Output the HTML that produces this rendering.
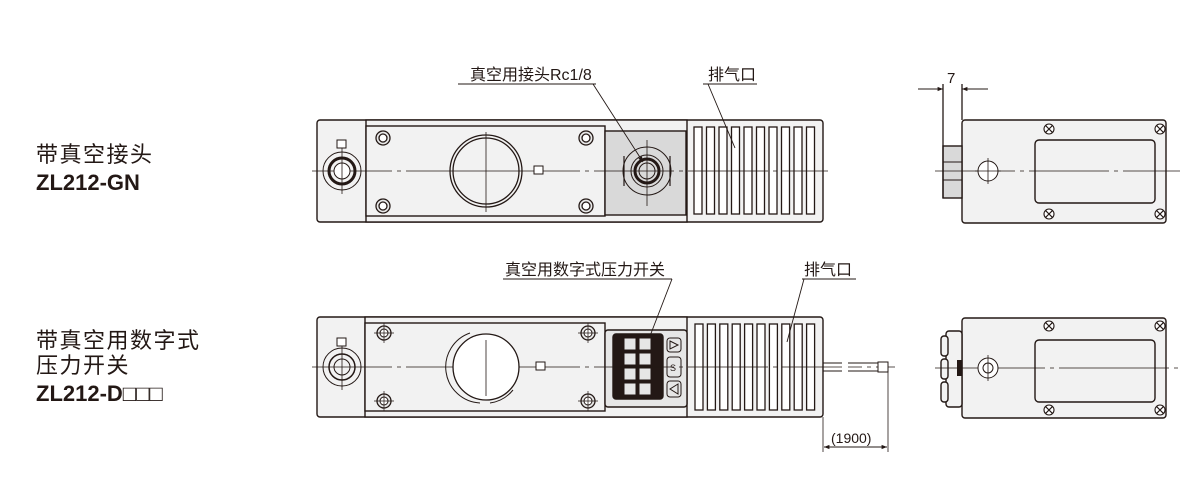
<!DOCTYPE html>
<html><head><meta charset="utf-8"><style>
html,body{margin:0;padding:0;background:#fff;}
svg{display:block;}
text{font-family:"Liberation Sans","Noto Sans CJK SC",sans-serif;fill:#231815;}
</style></head><body>
<svg width="1200" height="500" viewBox="0 0 1200 500" xmlns="http://www.w3.org/2000/svg">
<defs>
<marker id="ar" viewBox="0 0 10 10" refX="10" refY="5" markerWidth="9" markerHeight="6" orient="auto-start-reverse"><path d="M0,1 L10,5 L0,9 z" fill="#231815"/></marker>
<g id="bolt"><circle r="7" fill="#e8e8e8" stroke="#231815" stroke-width="1.3"/><circle r="4" fill="#fff" stroke="#231815" stroke-width="1.3"/></g>
<g id="bolt2"><circle r="7" fill="#e8e8e8" stroke="#231815" stroke-width="1.3"/><circle r="4" fill="#fff" stroke="#231815" stroke-width="1"/><path d="M-10,0 H10 M0,-10 V10" stroke="#231815" stroke-width="0.7"/></g>
<g id="x"><circle r="5" fill="#fff" stroke="#231815" stroke-width="1.1"/><path d="M-3.3,-3.3 L3.3,3.3 M3.3,-3.3 L-3.3,3.3" stroke="#231815" stroke-width="1.1"/></g>
</defs>
<text x="36" y="162" font-size="22" letter-spacing="1.5">带真空接头</text>
<text x="36" y="190" font-size="22" font-weight="bold">ZL212-GN</text>
<text x="36" y="348" font-size="22" letter-spacing="1.5">带真空用数字式</text>
<text x="36" y="373" font-size="22" letter-spacing="1.5">压力开关</text>
<text x="36" y="401" font-size="22" font-weight="bold">ZL212-D□□□</text>

<!-- ===== TOP FRONT VIEW ===== -->
<g stroke="#231815" stroke-width="1.4" fill="#f2f2f2">
<rect x="317" y="120" width="506" height="102" rx="3"/>
<rect x="366" y="120" width="321" height="102" fill="#f2f2f2"/>
<rect x="366" y="126" width="239" height="90" fill="#f2f2f2"/>
<rect x="605" y="131" width="81" height="84" fill="#d9d9d9"/>
</g>
<g stroke="#231815" stroke-width="1.3" fill="#fff">
<rect x="694" y="127" width="8" height="87"/><rect x="706.5" y="127" width="8" height="87"/><rect x="719" y="127" width="8" height="87"/><rect x="731.5" y="127" width="8" height="87"/><rect x="744" y="127" width="8" height="87"/><rect x="756.5" y="127" width="8" height="87"/><rect x="769" y="127" width="8" height="87"/><rect x="781.5" y="127" width="8" height="87"/><rect x="794" y="127" width="8" height="87"/><rect x="806.5" y="127" width="8" height="87"/>
</g>
<g fill="none" stroke="#231815">
<line x1="312" y1="171" x2="828" y2="171" stroke-width="0.8" stroke-dasharray="80,5,4,5"/>
<circle cx="342" cy="171" r="19" stroke-width="1"/><circle cx="342" cy="171" r="13" stroke-width="3"/><circle cx="342" cy="171" r="8" fill="#fff" stroke-width="1"/>
<line x1="342" y1="148" x2="342" y2="194" stroke-width="0.8"/>
<rect x="337" y="140" width="9" height="8" stroke-width="1" fill="#fff"/>
<circle cx="486" cy="171" r="36" stroke-width="1.3" fill="#f2f2f2"/><circle cx="486" cy="171" r="33" stroke-width="1.3"/>
<line x1="486" y1="132" x2="486" y2="212" stroke-width="0.8"/>
<line x1="450" y1="171" x2="522" y2="171" stroke-width="0.8"/>
<rect x="534" y="166" width="9" height="8" stroke-width="1" fill="#fff"/>
<circle cx="647" cy="171" r="24" stroke-width="1"/><circle cx="647" cy="171" r="16" stroke-width="1"/><circle cx="647" cy="171" r="12" stroke-width="3"/><circle cx="647" cy="171" r="8" stroke-width="1"/>
<line x1="624" y1="156" x2="624" y2="186" stroke-width="1.2"/><line x1="670" y1="156" x2="670" y2="186" stroke-width="1.2"/>
<line x1="647" y1="140" x2="647" y2="206" stroke-width="0.8"/>
</g>
<use href="#bolt" x="383" y="138"/><use href="#bolt" x="586" y="138"/><use href="#bolt" x="383" y="206"/><use href="#bolt" x="586" y="206"/>
<text x="470" y="80" font-size="16">真空用接头Rc1/8</text>
<text x="708" y="80" font-size="16">排气口</text>
<g stroke="#231815" stroke-width="0.9" fill="none">
<line x1="458" y1="84" x2="596" y2="84"/><line x1="593" y1="84" x2="643" y2="162" marker-end="url(#ar)"/>
<line x1="703" y1="84" x2="757" y2="84"/><line x1="708" y1="84" x2="735" y2="148"/>
</g>

<!-- ===== TOP SIDE VIEW ===== -->
<g stroke="#231815" stroke-width="1.4" fill="#f2f2f2">
<rect x="962" y="120" width="204" height="103" rx="3"/>
<rect x="943" y="146" width="19" height="52" fill="#d9d9d9"/>
<rect x="1035" y="140" width="120" height="63" rx="4"/>
</g>
<g stroke="#231815" fill="none">
<line x1="943" y1="162" x2="962" y2="162" stroke-width="1"/><line x1="943" y1="180" x2="962" y2="180" stroke-width="1"/>
<line x1="943" y1="84" x2="943" y2="198" stroke-width="1.3"/><line x1="962" y1="84" x2="962" y2="120" stroke-width="1.3"/>
<line x1="918" y1="89" x2="943" y2="89" stroke-width="0.9" marker-end="url(#ar)"/><line x1="988" y1="89" x2="962" y2="89" stroke-width="0.9" marker-end="url(#ar)"/>
<line x1="935" y1="171" x2="1180" y2="171" stroke-width="0.8" stroke-dasharray="80,5,4,5"/>
<circle cx="988" cy="171" r="10" stroke-width="1" fill="#fff"/><line x1="988" y1="158" x2="988" y2="184" stroke-width="0.8"/><line x1="975" y1="171" x2="1001" y2="171" stroke-width="0.8"/>
</g>
<text x="947" y="83" font-size="15">7</text>
<use href="#x" x="1049" y="129"/><use href="#x" x="1160" y="129"/><use href="#x" x="1049" y="214"/><use href="#x" x="1160" y="214"/>

<!-- ===== BOTTOM FRONT VIEW ===== -->
<g stroke="#231815" stroke-width="1.4" fill="#f2f2f2">
<rect x="317" y="317" width="506" height="100" rx="3"/>
<rect x="365" y="317" width="322" height="100"/>
<rect x="365" y="323" width="240" height="88"/>
<rect x="605" y="330" width="82" height="77" fill="#e6e6e6" rx="3"/>
<rect x="613" y="334" width="50" height="65" fill="#231815" rx="3"/>
</g>
<g stroke="#231815" stroke-width="1.3" fill="#fff">
<rect x="695" y="324" width="8" height="86"/><rect x="707.4" y="324" width="8" height="86"/><rect x="719.8" y="324" width="8" height="86"/><rect x="732.2" y="324" width="8" height="86"/><rect x="744.6" y="324" width="8" height="86"/><rect x="757" y="324" width="8" height="86"/><rect x="769.4" y="324" width="8" height="86"/><rect x="781.8" y="324" width="8" height="86"/><rect x="794.2" y="324" width="8" height="86"/><rect x="806.6" y="324" width="8" height="86"/>
</g>
<g fill="#e6e6e6" stroke="#231815" stroke-width="1">
<rect x="624" y="338" width="12" height="12"/><rect x="639" y="338" width="12" height="12"/>
<rect x="624" y="353" width="12" height="12"/><rect x="639" y="353" width="12" height="12"/>
<rect x="624" y="368" width="12" height="12"/><rect x="639" y="368" width="12" height="12"/>
<rect x="624" y="383" width="12" height="12"/><rect x="639" y="383" width="12" height="12"/>
</g>
<g stroke="#231815" stroke-width="1" fill="#e6e6e6">
<rect x="667" y="338" width="14" height="14" rx="3"/><rect x="667" y="357" width="14" height="20" rx="3"/><rect x="667" y="381" width="14" height="16" rx="3"/>
<path d="M670,341 L678,345 L670,349 z" fill="none"/><path d="M678,384 L670,389 L678,394 z" fill="none"/>
</g>
<text x="670" y="371" font-size="9">S</text>
<g fill="none" stroke="#231815">
<line x1="312" y1="367" x2="895" y2="367" stroke-width="0.8" stroke-dasharray="80,5,4,5"/>
<circle cx="342" cy="367" r="19" stroke-width="1"/><circle cx="342" cy="367" r="13" stroke-width="1.5"/><circle cx="342" cy="367" r="8" stroke-width="1"/>
<line x1="342" y1="344" x2="342" y2="390" stroke-width="0.8"/>
<rect x="337" y="338" width="9" height="8" stroke-width="1" fill="#fff"/>
<circle cx="486" cy="367" r="33" stroke-width="1.3" fill="#fff"/>
<path d="M470,333 A36,36 0 0 0 480,403" stroke-width="1"/><path d="M513,390 A36,36 0 0 1 490,403" stroke-width="1"/>
<line x1="486" y1="340" x2="486" y2="396" stroke-width="0.8"/>
<rect x="536" y="362" width="9" height="8" stroke-width="1" fill="#fff"/>
<line x1="823" y1="363" x2="880" y2="363" stroke-width="1"/><line x1="823" y1="371" x2="880" y2="371" stroke-width="1"/>
<rect x="878" y="362" width="10" height="10" stroke-width="1" fill="#fff"/>
<line x1="823" y1="417" x2="823" y2="452" stroke-width="0.8"/><line x1="888" y1="372" x2="888" y2="452" stroke-width="0.8"/>
<line x1="856" y1="447" x2="824" y2="447" stroke-width="0.9" marker-end="url(#ar)"/><line x1="856" y1="447" x2="887" y2="447" stroke-width="0.9" marker-end="url(#ar)"/>
</g>
<rect x="842" y="360" width="6" height="14" fill="#fff"/>
<use href="#bolt2" x="384" y="333"/><use href="#bolt2" x="588" y="333"/><use href="#bolt2" x="384" y="401"/><use href="#bolt2" x="588" y="401"/>
<text x="831" y="443" font-size="14">(1900)</text>
<text x="505" y="275" font-size="16">真空用数字式压力开关</text>
<text x="804" y="275" font-size="16">排气口</text>
<g stroke="#231815" stroke-width="0.9" fill="none">
<line x1="503" y1="279" x2="672" y2="279"/><line x1="672" y1="279" x2="650" y2="336"/>
<line x1="802" y1="279" x2="856" y2="279"/><line x1="804" y1="279" x2="787" y2="342"/>
</g>

<!-- ===== BOTTOM SIDE VIEW ===== -->
<g stroke="#231815" stroke-width="1.4" fill="#f2f2f2">
<rect x="962" y="318" width="204" height="100" rx="3"/>
<rect x="1035" y="340" width="120" height="62" rx="4"/>
<rect x="946" y="331" width="16" height="76" rx="3"/>
<rect x="941" y="336" width="7" height="20" rx="3"/><rect x="941" y="359" width="7" height="20" rx="3"/><rect x="941" y="382" width="7" height="20" rx="3"/>
</g>
<rect x="957" y="360" width="5" height="16" fill="#231815"/>
<g fill="none" stroke="#231815">
<line x1="935" y1="368" x2="1180" y2="368" stroke-width="0.8" stroke-dasharray="110,5,4,5"/>
<circle cx="988" cy="368" r="10" stroke-width="1" fill="#fff"/><circle cx="988" cy="368" r="5" stroke-width="1"/><line x1="988" y1="355" x2="988" y2="381" stroke-width="0.8"/>
</g>
<use href="#x" x="1049" y="326"/><use href="#x" x="1160" y="326"/><use href="#x" x="1049" y="410"/><use href="#x" x="1160" y="410"/>
</svg>
</body></html>
